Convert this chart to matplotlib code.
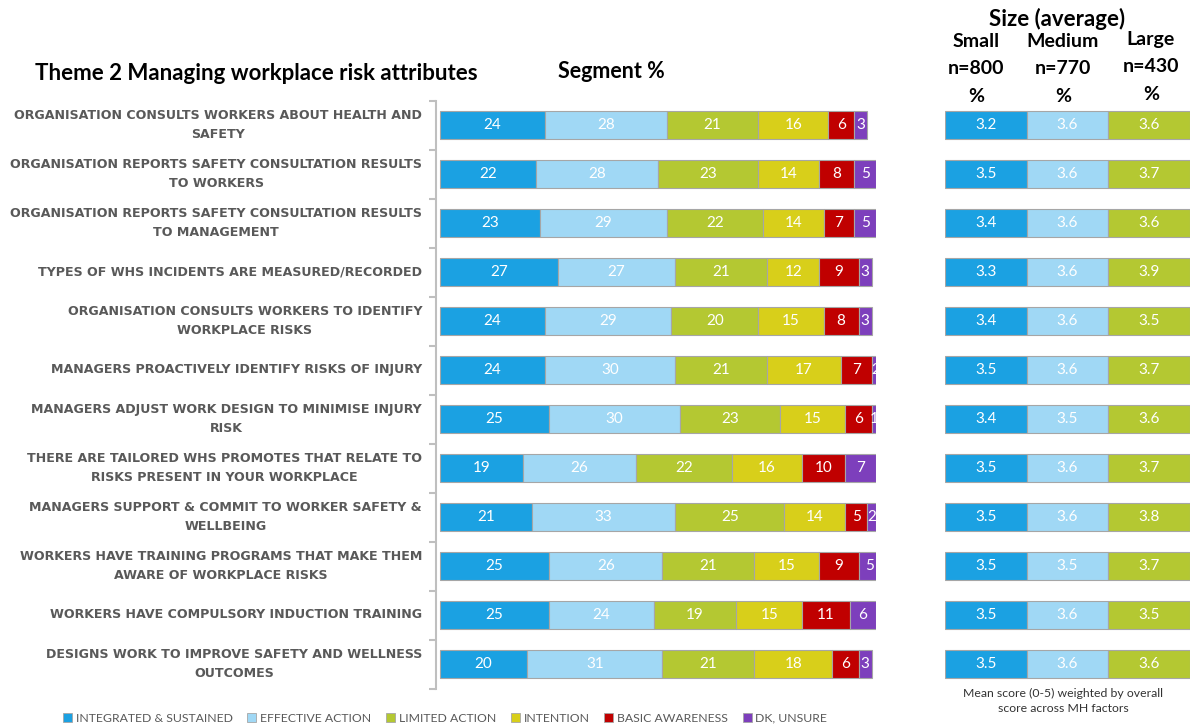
import matplotlib
matplotlib.use("Agg")
import matplotlib.pyplot as plt
import numpy as np
from matplotlib.patches import Patch

plt.rcParams['font.family'] = ['Lato', 'DejaVu Sans']

attributes = [
    "Organisation consults workers about health and\nsafety",
    "Organisation reports safety consultation results\nto workers",
    "Organisation reports safety consultation results\nto management",
    "Types of WHS incidents are measured/recorded",
    "Organisation consults workers to identify\nworkplace risks",
    "Managers proactively identify risks of injury",
    "Managers adjust work design to minimise injury\nrisk",
    "There are tailored WHS promotes that relate to\nrisks present in your workplace",
    "Managers support & commit to worker safety &\nwellbeing",
    "Workers have training programs that make them\naware of workplace risks",
    "Workers have compulsory induction training",
    "Designs work to improve safety and wellness\noutcomes",
]

segments = ["Integrated & Sustained", "Effective Action", "Limited Action",
            "Intention", "Basic Awareness", "DK, Unsure"]

integrated = [24, 22, 23, 27, 24, 24, 25, 19, 21, 25, 25, 20]
effective  = [28, 28, 29, 27, 29, 30, 30, 26, 33, 26, 24, 31]
limited    = [21, 23, 22, 21, 20, 21, 23, 22, 25, 21, 19, 21]
intention  = [16, 14, 14, 12, 15, 17, 15, 16, 14, 15, 15, 18]
basic      = [6, 8, 7, 9, 8, 7, 6, 10, 5, 9, 11, 6]
dk_unsure  = [3, 5, 5, 3, 3, 2, 1, 7, 2, 5, 6, 3]

size_groups = ["Small\nn=800\n%", "Medium\nn=770\n%", "Large\nn=430\n%"]
small  = [3.2, 3.5, 3.4, 3.3, 3.4, 3.5, 3.4, 3.5, 3.5, 3.5, 3.5, 3.5]
medium = [3.6, 3.6, 3.6, 3.6, 3.6, 3.6, 3.5, 3.6, 3.6, 3.5, 3.6, 3.6]
large  = [3.6, 3.7, 3.6, 3.9, 3.5, 3.7, 3.6, 3.7, 3.8, 3.7, 3.5, 3.6]

colors = ["#1BA1E2", "#A0D8F5", "#B4C832", "#D8CF1A", "#C00000", "#7D3FBC"]
edge = "#A6A6A6"
label_color = "#595959"

W, H = 1192, 728
fig = plt.figure(figsize=(W / 100, H / 100), dpi=100)

n = len(attributes)
y = np.arange(n)
bar_h = 0.57

# Left axes: segment %
top_px, bot_px = 100.5, 688.5
axL = fig.add_axes([436 / W, 1 - bot_px / H, 440 / W, (bot_px - top_px) / H])
series = [integrated, effective, limited, intention, basic, dk_unsure]
left = np.zeros(n)
for vals, c, name in zip(series, colors, segments):
    vals = np.array(vals, dtype=float)
    axL.barh(y, vals, left=left, height=bar_h, color=c, edgecolor=edge,
             linewidth=0.8, label=name)
    for yi, (l, v) in enumerate(zip(left, vals)):
        axL.text(l + v / 2, yi, f"{int(v)}", ha='center', va='center',
                 color='white', fontsize=11)
    left += vals
axL.set_xlim(-0.92, 100)
axL.set_ylim(n - 0.5, -0.5)
for s in ['top', 'right', 'bottom']:
    axL.spines[s].set_visible(False)
axL.spines['left'].set_color('#BFBFBF')
axL.spines['left'].set_linewidth(1.5)
axL.set_xticks([])
axL.set_yticks(y)
axL.set_yticklabels([])
axL.tick_params(axis='y', which='major', length=0)
axL.set_yticks(np.arange(n + 1) - 0.5, minor=True)
axL.tick_params(axis='y', which='minor', length=5, color='#BFBFBF', width=1.5)

for yi, lab in enumerate(attributes):
    axL.annotate(lab.upper(), xy=(0, yi), xycoords=('axes fraction', 'data'),
                 xytext=(-10, 0), textcoords='offset points', ha='right',
                 va='center', multialignment='center', fontsize=9.1,
                 color=label_color, fontweight='bold',
                 family=['DejaVu Sans'], linespacing=1.68)

# Right axes: size averages
axR = fig.add_axes([945 / W, 1 - bot_px / H, 245 / W, (bot_px - top_px) / H])
size_vals = [small, medium, large]
for k, (vals, c) in enumerate(zip(size_vals, colors[:3])):
    axR.barh(y, np.ones(n), left=k, height=bar_h, color=c, edgecolor=edge,
             linewidth=0.8)
    for yi, v in enumerate(vals):
        axR.text(k + 0.5, yi, f"{v:.1f}", ha='center', va='center',
                 color='white', fontsize=11)
axR.set_xlim(0, 3)
axR.set_ylim(n - 0.5, -0.5)
axR.axis('off')

# Headers
fig.text(35 / W, 1 - 74 / H, "Theme 2 Managing workplace risk attributes",
         ha='left', va='center', fontsize=16, fontweight='bold', color='black')
fig.text(611 / W, 1 - 71 / H, "Segment %", ha='center', va='center',
         fontsize=15.5, fontweight='bold', color='black')
fig.text(1057 / W, 1 - 19 / H, "Size (average)", ha='center', va='center',
         fontsize=16, fontweight='bold', color='black')
for cx, cy, lab in zip([976, 1063, 1151], [69, 69, 67], size_groups):
    fig.text(cx / W, 1 - cy / H, lab, ha='center', va='center', fontsize=14,
             fontweight='bold', color='black', linespacing=1.75)
fig.text(1063 / W, 1 - 701 / H,
         "Mean score (0-5) weighted by overall\nscore across MH factors",
         ha='center', va='center', fontsize=8.8, color='#333333', linespacing=1.35)

# Legend
handles = [Patch(facecolor=c, edgecolor=edge, linewidth=0.6) for c in colors]
leg = fig.legend(handles, [s.upper() for s in segments], loc='center',
                 bbox_to_anchor=(445 / W, 1 - 718 / H), ncol=6, frameon=False,
                 fontsize=8.8, handlelength=0.75, handleheight=0.75,
                 handletextpad=0.3, columnspacing=1.2)
for t in leg.get_texts():
    t.set_color(label_color)

fig.savefig("out.png", dpi=100)
